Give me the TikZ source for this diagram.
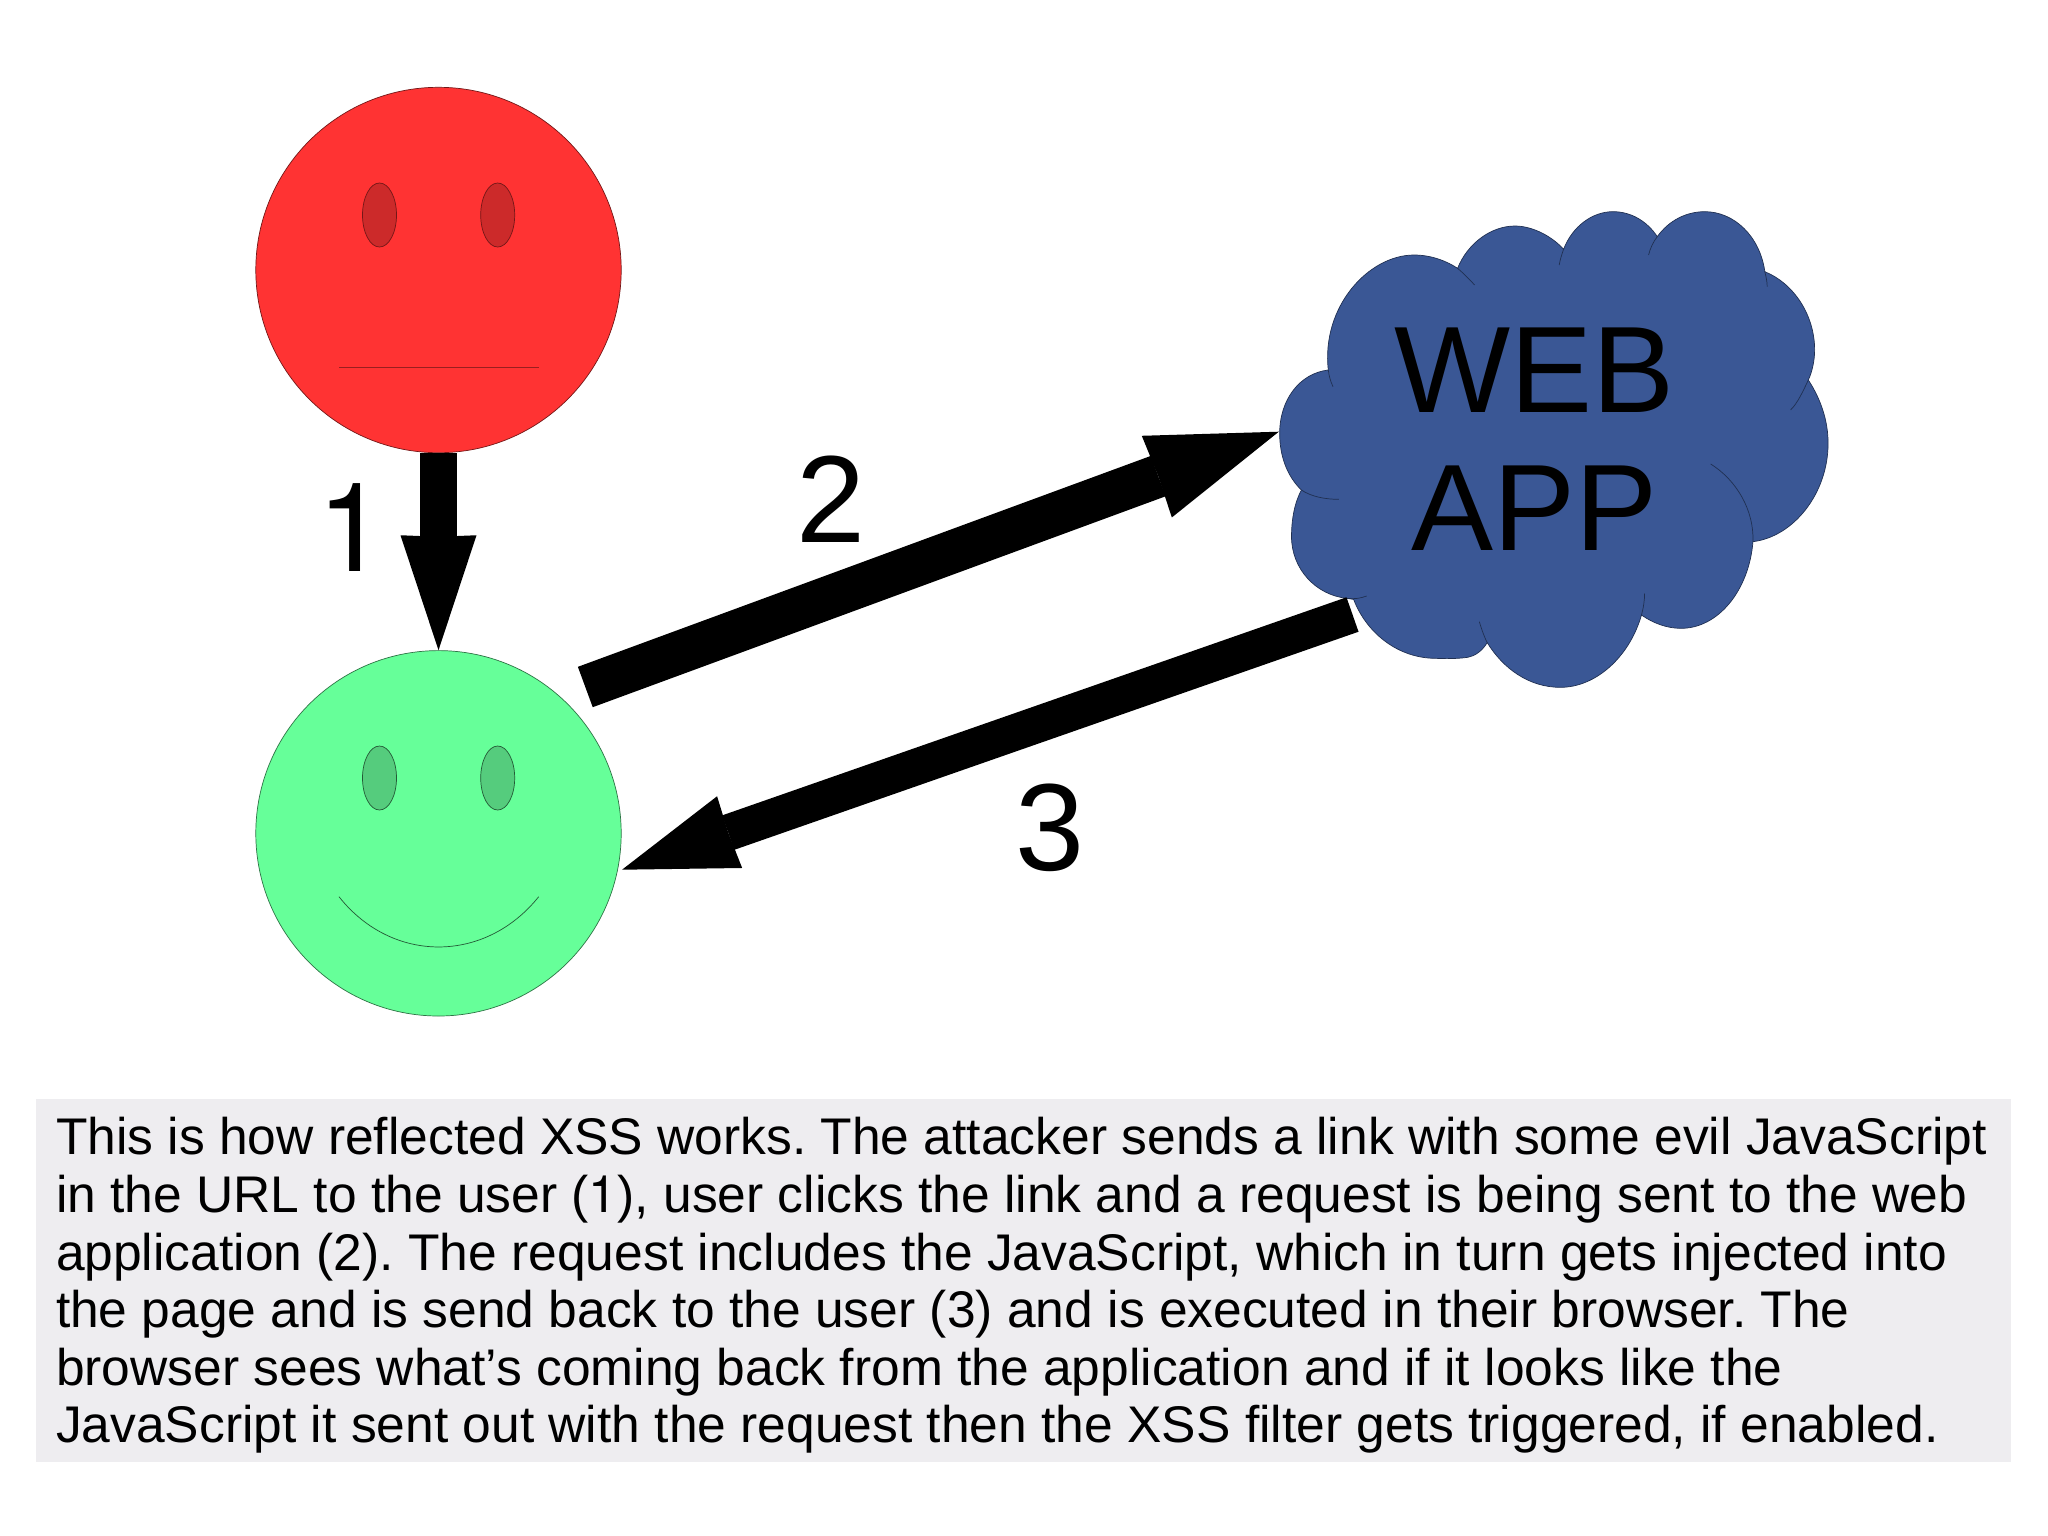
\documentclass[tikz,border=0pt]{standalone}
\usepackage{fontspec}
\setmainfont{Liberation Sans}
\newfontfamily\heros{TeX Gyre Heros}
\usetikzlibrary{arrows.meta,shapes.geometric}
\definecolor{facered}{HTML}{FF3333}
\definecolor{eyered}{HTML}{CC2A2A}
\definecolor{facegreen}{HTML}{66FF99}
\definecolor{eyegreen}{HTML}{55CC7D}
\definecolor{cloudblue}{HTML}{3A5795}
\definecolor{panelgrey}{HTML}{EEEDF0}
\tikzset{
  face/.style={circle,minimum size=365.4pt,inner sep=0pt,line width=0.7pt},
  eye/.style={ellipse,minimum width=34pt,minimum height=64pt,inner sep=0pt,line width=0.7pt},
  outl/.style={line width=0.7pt},
  biglabel/.style={anchor=base west,inner sep=0pt,outer sep=0pt,font=\fontsize{124}{124}\selectfont},
  arrowone/.style={line width=37pt,-{Stealth[length=115pt 0 0,width=76pt 0 0,inset=1.5pt 0 0,line width=0pt 0 0]}},
  arrowtwo/.style={line width=43pt,-{Stealth[length=130pt 0 0,width=87pt 0 0,inset=1.5pt 0 0,line width=0pt 0 0]}},
  arrowthree/.style={line width=36.5pt,-{Stealth[length=114pt 0 0,width=76pt 0 0,inset=1.5pt 0 0,line width=0pt 0 0]}},
}
\begin{document}
\begin{tikzpicture}[x=1pt,y=-1pt]
\useasboundingbox (0,0) rectangle (2048,1535);
\fill[white] (0,0) rectangle (2048,1535);
% faces
\node[face,fill=facered,draw=facered!45!black] (attacker) at (438.5,270) {};
\node[eye,fill=eyered,draw=facered!45!black] (attackerL) at (379.5,215) {};
\node[eye,fill=eyered,draw=facered!45!black] (attackerR) at (497.7,215) {};
\coordinate (am1) at (339,367);
\coordinate (am2) at (538.7,367);
\draw[outl,draw=facered!60!black] (am1) -- (am2);
\node[face,fill=facegreen,draw=facegreen!45!black] (user) at (438.5,833.3) {};
\node[eye,fill=eyegreen,draw=facegreen!35!black] (userL) at (379.5,778) {};
\node[eye,fill=eyegreen,draw=facegreen!35!black] (userR) at (497.7,778) {};
\coordinate (um1) at (339,896.7);
\coordinate (um2) at (538.7,896.7);
\draw[outl,draw=facegreen!35!black] (um1) .. controls (392,963.7) and (485,963.7) .. (um2);
% cloud
\begin{scope}[shift={(1250,190)},x=0.3954pt,y=-0.33333pt]
\draw[fill=cloudblue,draw=cloudblue!55!black,line width=0.7pt]
  (198,540) .. controls (180,350) and (300,195) .. (415,195)
  .. controls (460,195) and (500,215) .. (525,235)
  .. controls (550,160) and (610,108) .. (670,108)
  .. controls (715,108) and (765,140) .. (793,178)
  .. controls (815,110) and (865,65) .. (918,65)
  .. controls (965,65) and (1005,95) .. (1030,140)
  .. controls (1060,90) and (1105,65) .. (1150,65)
  .. controls (1225,65) and (1290,140) .. (1302,245)
  .. controls (1375,280) and (1428,375) .. (1428,480)
  .. controls (1428,510) and (1422,545) .. (1412,570)
  .. controls (1445,630) and (1462,695) .. (1462,760)
  .. controls (1462,910) and (1375,1040) .. (1272,1055)
  .. controls (1262,1200) and (1185,1315) .. (1090,1315)
  .. controls (1055,1315) and (1020,1300) .. (990,1275)
  .. controls (960,1400) and (875,1492) .. (785,1492)
  .. controls (705,1492) and (640,1435) .. (600,1358)
  .. controls (585,1385) and (570,1397) .. (550,1402)
  .. controls (520,1407) and (490,1406) .. (470,1405)
  .. controls (375,1405) and (295,1330) .. (262,1228)
  -- (245,1225)
  .. controls (165,1215) and (105,1135) .. (105,1040)
  .. controls (105,990) and (112,940) .. (130,900)
  .. controls (95,860) and (75,800) .. (75,730)
  .. controls (75,630) and (125,550) .. (198,540) -- cycle;
\draw[draw=cloudblue!55!black,line width=0.7pt]
  (198,540) .. controls (200,560) and (204,575) .. (210,590)
  (130,900) .. controls (155,920) and (190,928) .. (225,928)
  (245,1225) .. controls (262,1228) and (280,1225) .. (295,1218)
  (600,1358) .. controls (592,1340) and (585,1315) .. (580,1295)
  (990,1275) .. controls (995,1255) and (998,1230) .. (998,1210)
  (1272,1055) .. controls (1275,960) and (1230,870) .. (1165,822)
  (1412,570) .. controls (1400,600) and (1385,640) .. (1367,660)
  (1302,245) .. controls (1305,260) and (1308,275) .. (1308,290)
  (1030,140) .. controls (1020,155) and (1012,175) .. (1008,195)
  (793,178) .. controls (788,195) and (784,210) .. (782,225)
  (525,235) .. controls (540,250) and (555,268) .. (568,285);
\end{scope}
% arrows
\coordinate (a2s) at (585.3,687);
\coordinate (a2e) at (1278.8,431.7);
\coordinate (a3s) at (1352.5,614.5);
\coordinate (a3e) at (622,869.7);
\draw[arrowone] (attacker.south) -- (user.north);
\draw[arrowtwo] (a2s) -- (a2e);
\draw[arrowthree] (a3s) -- (a3e);
% labels
\node[biglabel] (n1) at (317.5,571) {\heros 1};
\node[biglabel] (n2) at (796,542) {2};
\node[biglabel] (n3) at (1015.5,870) {3};
\node[biglabel,font=\fontsize{123}{123}\selectfont] (web) at (1394,412) {WEB};
\node[biglabel,font=\fontsize{123}{123}\selectfont] (app) at (1411,550.5) {APP};
% panel
\node[anchor=north west,inner sep=0pt,minimum width=1975pt,minimum height=362.7pt,fill=panelgrey] (panel) at (36,1099) {};
\node[anchor=north west,inner sep=0pt,outer sep=0pt,align=left,font=\fontsize{51.55}{57.6}\selectfont\frenchspacing] (caption) at (56,1117.5) {This is how reflected XSS works. The attacker sends a link with some evil JavaScript\\
in the URL to the user ({\heros 1}), user clicks the link and a request is being sent to the web\\
application (2). The request includes the JavaScript, which in turn gets injected into\\
the page and is send back to the user (3) and is executed in their browser. The\\
browser sees what’s coming back from the application and if it looks like the\\
JavaScript it sent out with the request then the XSS filter gets triggered, if enabled.};
\end{tikzpicture}
\end{document}
